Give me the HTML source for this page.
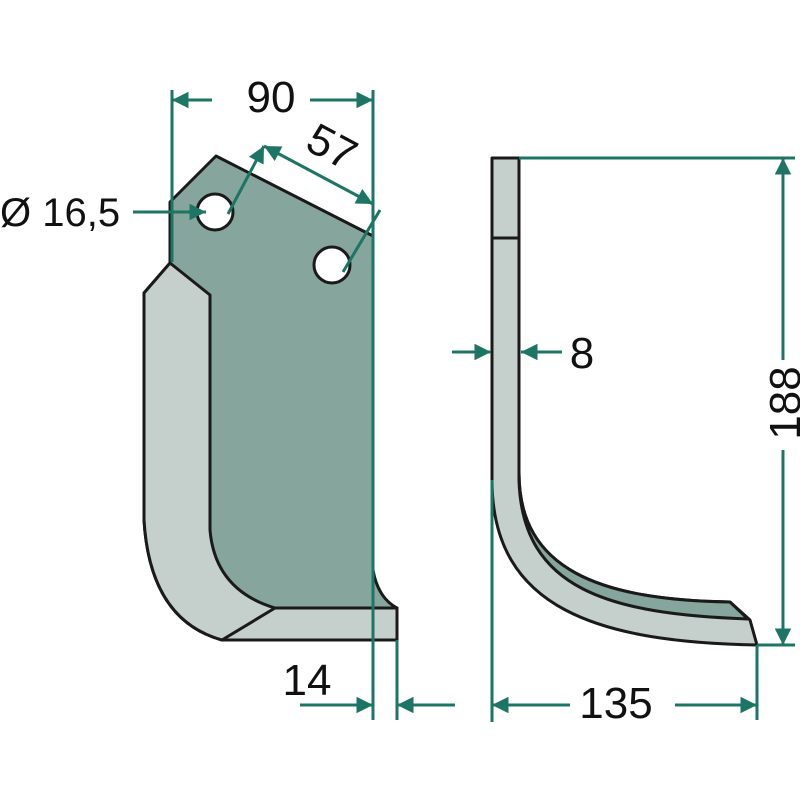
<!DOCTYPE html>
<html><head><style>body{margin:0;background:#fff}svg{display:block}</style></head><body>
<svg width="800" height="800" viewBox="0 0 800 800" xmlns="http://www.w3.org/2000/svg">
<defs>
<marker id="a" viewBox="0 0 10 10" refX="10" refY="5" markerWidth="6" markerHeight="5.5" orient="auto-start-reverse"><path d="M0,0 L10,5 L0,10 z" fill="#1d7565"/></marker>
</defs>
<g stroke="#1a1a1a" stroke-width="3" stroke-linejoin="round">
<!-- plate -->
<path d="M170,202 L216,156 L373,236 L373,570 Q378,598 397,608 L397,640 L222,640 Q150,620 144,520 L144,293 L170,263 Z" fill="#86a59d"/>
<path d="M144,293 L170,263 L210,295 L210,530 Q215,590 275,608 L397,608 L397,640 L222,640 Q150,620 144,520 Z" fill="#c5cfcc"/>
<path d="M275,608 L222,640" fill="none"/>
<circle cx="215" cy="212" r="18" fill="#fff"/>
<circle cx="332" cy="265" r="18" fill="#fff"/>
<!-- side view -->
<path d="M492,158 L519,158 L519,473 C519,570 600,600 730,602 L750,620 L757,645 C600,642 492,610 492,480 Z" fill="#c5cfcc"/>
<path d="M519,473 C519,570 600,600 730,602 L748,619 C610,614 522,590 519,480 Z" fill="#86a59d"/>
<path d="M492,238 L519,238" fill="none"/>
</g>
<g stroke="#1d7565" stroke-width="3" fill="none">
<line x1="172" y1="90" x2="172" y2="262"/>
<line x1="373" y1="90" x2="373" y2="720"/>
<line x1="397" y1="640" x2="397" y2="720"/>
<line x1="212" y1="100" x2="172" y2="100" marker-end="url(#a)"/>
<line x1="310" y1="100" x2="373" y2="100" marker-end="url(#a)"/>
<line x1="228" y1="214" x2="264" y2="146" marker-end="url(#a)"/>
<line x1="264" y1="146" x2="373" y2="204" marker-start="url(#a)" marker-end="url(#a)"/>
<line x1="343" y1="272" x2="380" y2="210"/>
<line x1="133" y1="212" x2="206" y2="212" marker-end="url(#a)"/>
<line x1="300" y1="705" x2="373" y2="705" marker-end="url(#a)"/>
<line x1="455" y1="705" x2="397" y2="705" marker-end="url(#a)"/>
<line x1="492" y1="480" x2="492" y2="722"/>
<line x1="757" y1="645" x2="757" y2="720"/>
<line x1="570" y1="705" x2="492" y2="705" marker-end="url(#a)"/>
<line x1="675" y1="705" x2="757" y2="705" marker-end="url(#a)"/>
<line x1="519" y1="158" x2="795" y2="158"/>
<line x1="757" y1="645" x2="795" y2="645"/>
<line x1="783" y1="360" x2="783" y2="158" marker-end="url(#a)"/>
<line x1="783" y1="450" x2="783" y2="645" marker-end="url(#a)"/>
<line x1="452" y1="352" x2="491" y2="352" marker-end="url(#a)"/>
<line x1="562" y1="352" x2="521" y2="352" marker-end="url(#a)"/>
</g>
<g font-family="Liberation Sans, sans-serif" font-size="44" fill="#111">
<text x="271" y="112" text-anchor="middle">90</text>
<text x="0" y="226" font-size="40">Ø 16,5</text>
<text transform="translate(325,160) rotate(28)" text-anchor="middle">57</text>
<text x="307" y="695" text-anchor="middle">14</text>
<text x="616" y="718" text-anchor="middle">135</text>
<text x="582" y="368" text-anchor="middle">8</text>
<text transform="translate(800,403) rotate(-90)" text-anchor="middle">188</text>
</g>
</svg>
</body></html>
